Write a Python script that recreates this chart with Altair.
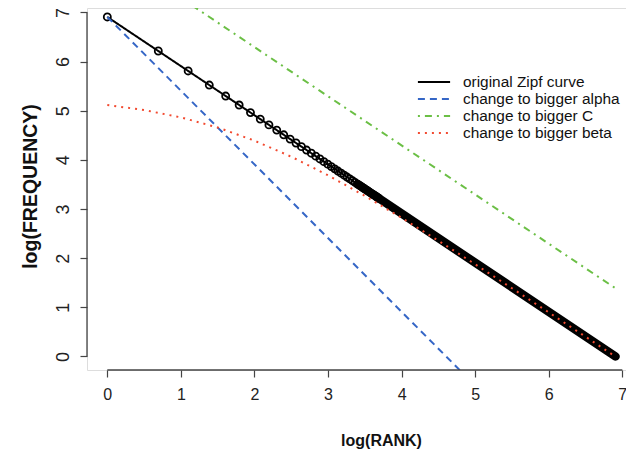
import altair as alt
import pandas as pd

# ---- data ----
# original Zipf curve: sampled (log rank, log frequency) markers
pt_x = [0.000, 0.693, 1.099, 1.386, 1.609, 1.792, 1.946, 2.079, 2.197, 2.303,
        2.398, 2.485, 2.565, 2.639, 2.708, 2.773, 2.833, 2.890, 2.944, 2.996,
        3.045, 3.091, 3.135, 3.178, 3.219, 3.258, 3.296, 3.332, 3.367, 3.401,
        3.434, 3.466, 3.497, 3.526, 3.555, 3.584, 3.611, 3.638, 3.664, 3.689]
pt_y = [6.908, 6.215, 5.809, 5.522, 5.299, 5.116, 4.962, 4.829, 4.711, 4.605,
        4.510, 4.423, 4.343, 4.269, 4.200, 4.135, 4.075, 4.018, 3.964, 3.912,
        3.863, 3.817, 3.773, 3.730, 3.689, 3.650, 3.612, 3.576, 3.541, 3.507,
        3.474, 3.442, 3.411, 3.382, 3.353, 3.324, 3.297, 3.270, 3.244, 3.219]
# dense run of overlapping markers (ranks ~30..1000)
band_x = [3.401, 6.908]
band_y = [3.507, 0.000]

orig_x = [0.000, 6.908]
orig_y = [6.908, 0.000]
alpha_x = [0.000, 6.908]
alpha_y = [6.908, -3.454]
c_x = [0.000, 6.908]
c_y = [8.294, 1.386]
beta_x = [0.0, 0.5, 1.0, 1.5, 2.0, 2.5, 3.0, 3.5, 4.0, 4.5, 5.0, 5.5, 6.0, 6.5, 6.908]
beta_y = [5.116, 5.014, 4.864, 4.659, 4.391, 4.064, 3.686, 3.267, 2.820, 2.354,
          1.875, 1.388, 0.896, 0.401, -0.005]

series = ["original Zipf curve", "change to bigger alpha",
          "change to bigger C", "change to bigger beta"]
colors = ["#000000", "#3566C6", "#6BBF45", "#F24A30"]
dashes = [[1, 0], [7, 5], [2, 5, 7, 5], [2, 5]]

tick_vals = [0, 1, 2, 3, 4, 5, 6, 7]
x_dom = [-0.276, 7.05]
y_dom = [-0.276, 7.09]

FONT = "Liberation Sans"

lines_df = pd.concat([
    pd.DataFrame({"x": orig_x, "y": orig_y, "s": series[0], "o": 0}),
    pd.DataFrame({"x": alpha_x, "y": alpha_y, "s": series[1], "o": 1}),
    pd.DataFrame({"x": c_x, "y": c_y, "s": series[2], "o": 2}),
    pd.DataFrame({"x": beta_x, "y": beta_y, "s": series[3], "o": 3}),
])
pts_df = pd.DataFrame({"x": pt_x, "y": pt_y})
band_df = pd.DataFrame({"x": band_x, "y": band_y})
xaxis_df = pd.DataFrame({"ax": [tick_vals[0]], "ax2": [tick_vals[-1]], "ay": [y_dom[0]]})
yaxis_df = pd.DataFrame({"by": [tick_vals[0]], "by2": [tick_vals[-1]], "bx": [x_dom[0]]})

xs = alt.Scale(domain=x_dom, nice=False, zero=False)
ys = alt.Scale(domain=y_dom, nice=False, zero=False)

x_axis = alt.Axis(values=tick_vals, domain=False, grid=False, tickSize=7,
                  tickColor="#444444", tickWidth=1.2, labelFont=FONT,
                  labelFontSize=16, labelColor="#222222", labelPadding=9,
                  titleFont=FONT, titleFontSize=16, titleFontWeight="bold",
                  titleColor="#111111", titleX=294, titleY=70,
                  titleBaseline="middle", format="d")
y_axis = alt.Axis(values=tick_vals, domain=False, grid=False, tickSize=7,
                  tickColor="#444444", tickWidth=1.2, labelFont=FONT,
                  labelFontSize=18, labelColor="#222222", labelPadding=8,
                  labelAngle=270, labelAlign="center", labelBaseline="bottom",
                  titleFont=FONT, titleFontSize=19.5, titleFontWeight="bold",
                  titleColor="#111111", titleX=-57, titleY=178,
                  titleBaseline="middle", titleAngle=270, format="d")

base_x = alt.X("x:Q", scale=xs, axis=x_axis, title="log(RANK)")
base_y = alt.Y("y:Q", scale=ys, axis=y_axis, title="log(FREQUENCY)")

band = alt.Chart(band_df).mark_line(color="#000000", strokeWidth=8.5,
                                    strokeCap="round", clip=True).encode(
    x=base_x, y=base_y)

points = alt.Chart(pts_df).mark_point(shape="circle", filled=False, size=50,
                                      strokeWidth=1.8, color="#000000",
                                      opacity=1, clip=True).encode(
    x=base_x, y=base_y)

lines = alt.Chart(lines_df).mark_line(strokeWidth=2, clip=True).encode(
    x=base_x, y=base_y,
    color=alt.Color("s:N", scale=alt.Scale(domain=series, range=colors),
                    legend=alt.Legend(title=None, orient="none", legendX=339,
                                      legendY=66, symbolType="M-2.3,0L2.3,0",
                                      symbolSize=196, symbolStrokeWidth=2,
                                      labelFont=FONT, labelFontSize=15.4,
                                      labelColor="#111111", labelOffset=21,
                                      labelLimit=400, rowPadding=0,
                                      padding=0)),
    strokeDash=alt.StrokeDash("s:N", scale=alt.Scale(domain=series, range=dashes),
                              legend=None),
    order="o:Q",
    detail="s:N",
)

xaxis_line = alt.Chart(xaxis_df).mark_rule(color="#444444", strokeWidth=1.3).encode(
    x=alt.X("ax:Q", scale=xs), x2="ax2:Q", y=alt.Y("ay:Q", scale=ys))
yaxis_line = alt.Chart(yaxis_df).mark_rule(color="#444444", strokeWidth=1.3).encode(
    x=alt.X("bx:Q", scale=xs), y=alt.Y("by:Q", scale=ys), y2="by2:Q")

chart = alt.layer(band, points, lines, xaxis_line, yaxis_line).properties(
    width=539, height=362,
    padding={"left": 79, "top": 0, "right": 0, "bottom": 80},
    autosize=alt.AutoSizeParams(type="none"),
).configure_view(stroke=None).configure(background="white")

chart.save("out.html", embed_options={"renderer": "svg", "actions": False})
